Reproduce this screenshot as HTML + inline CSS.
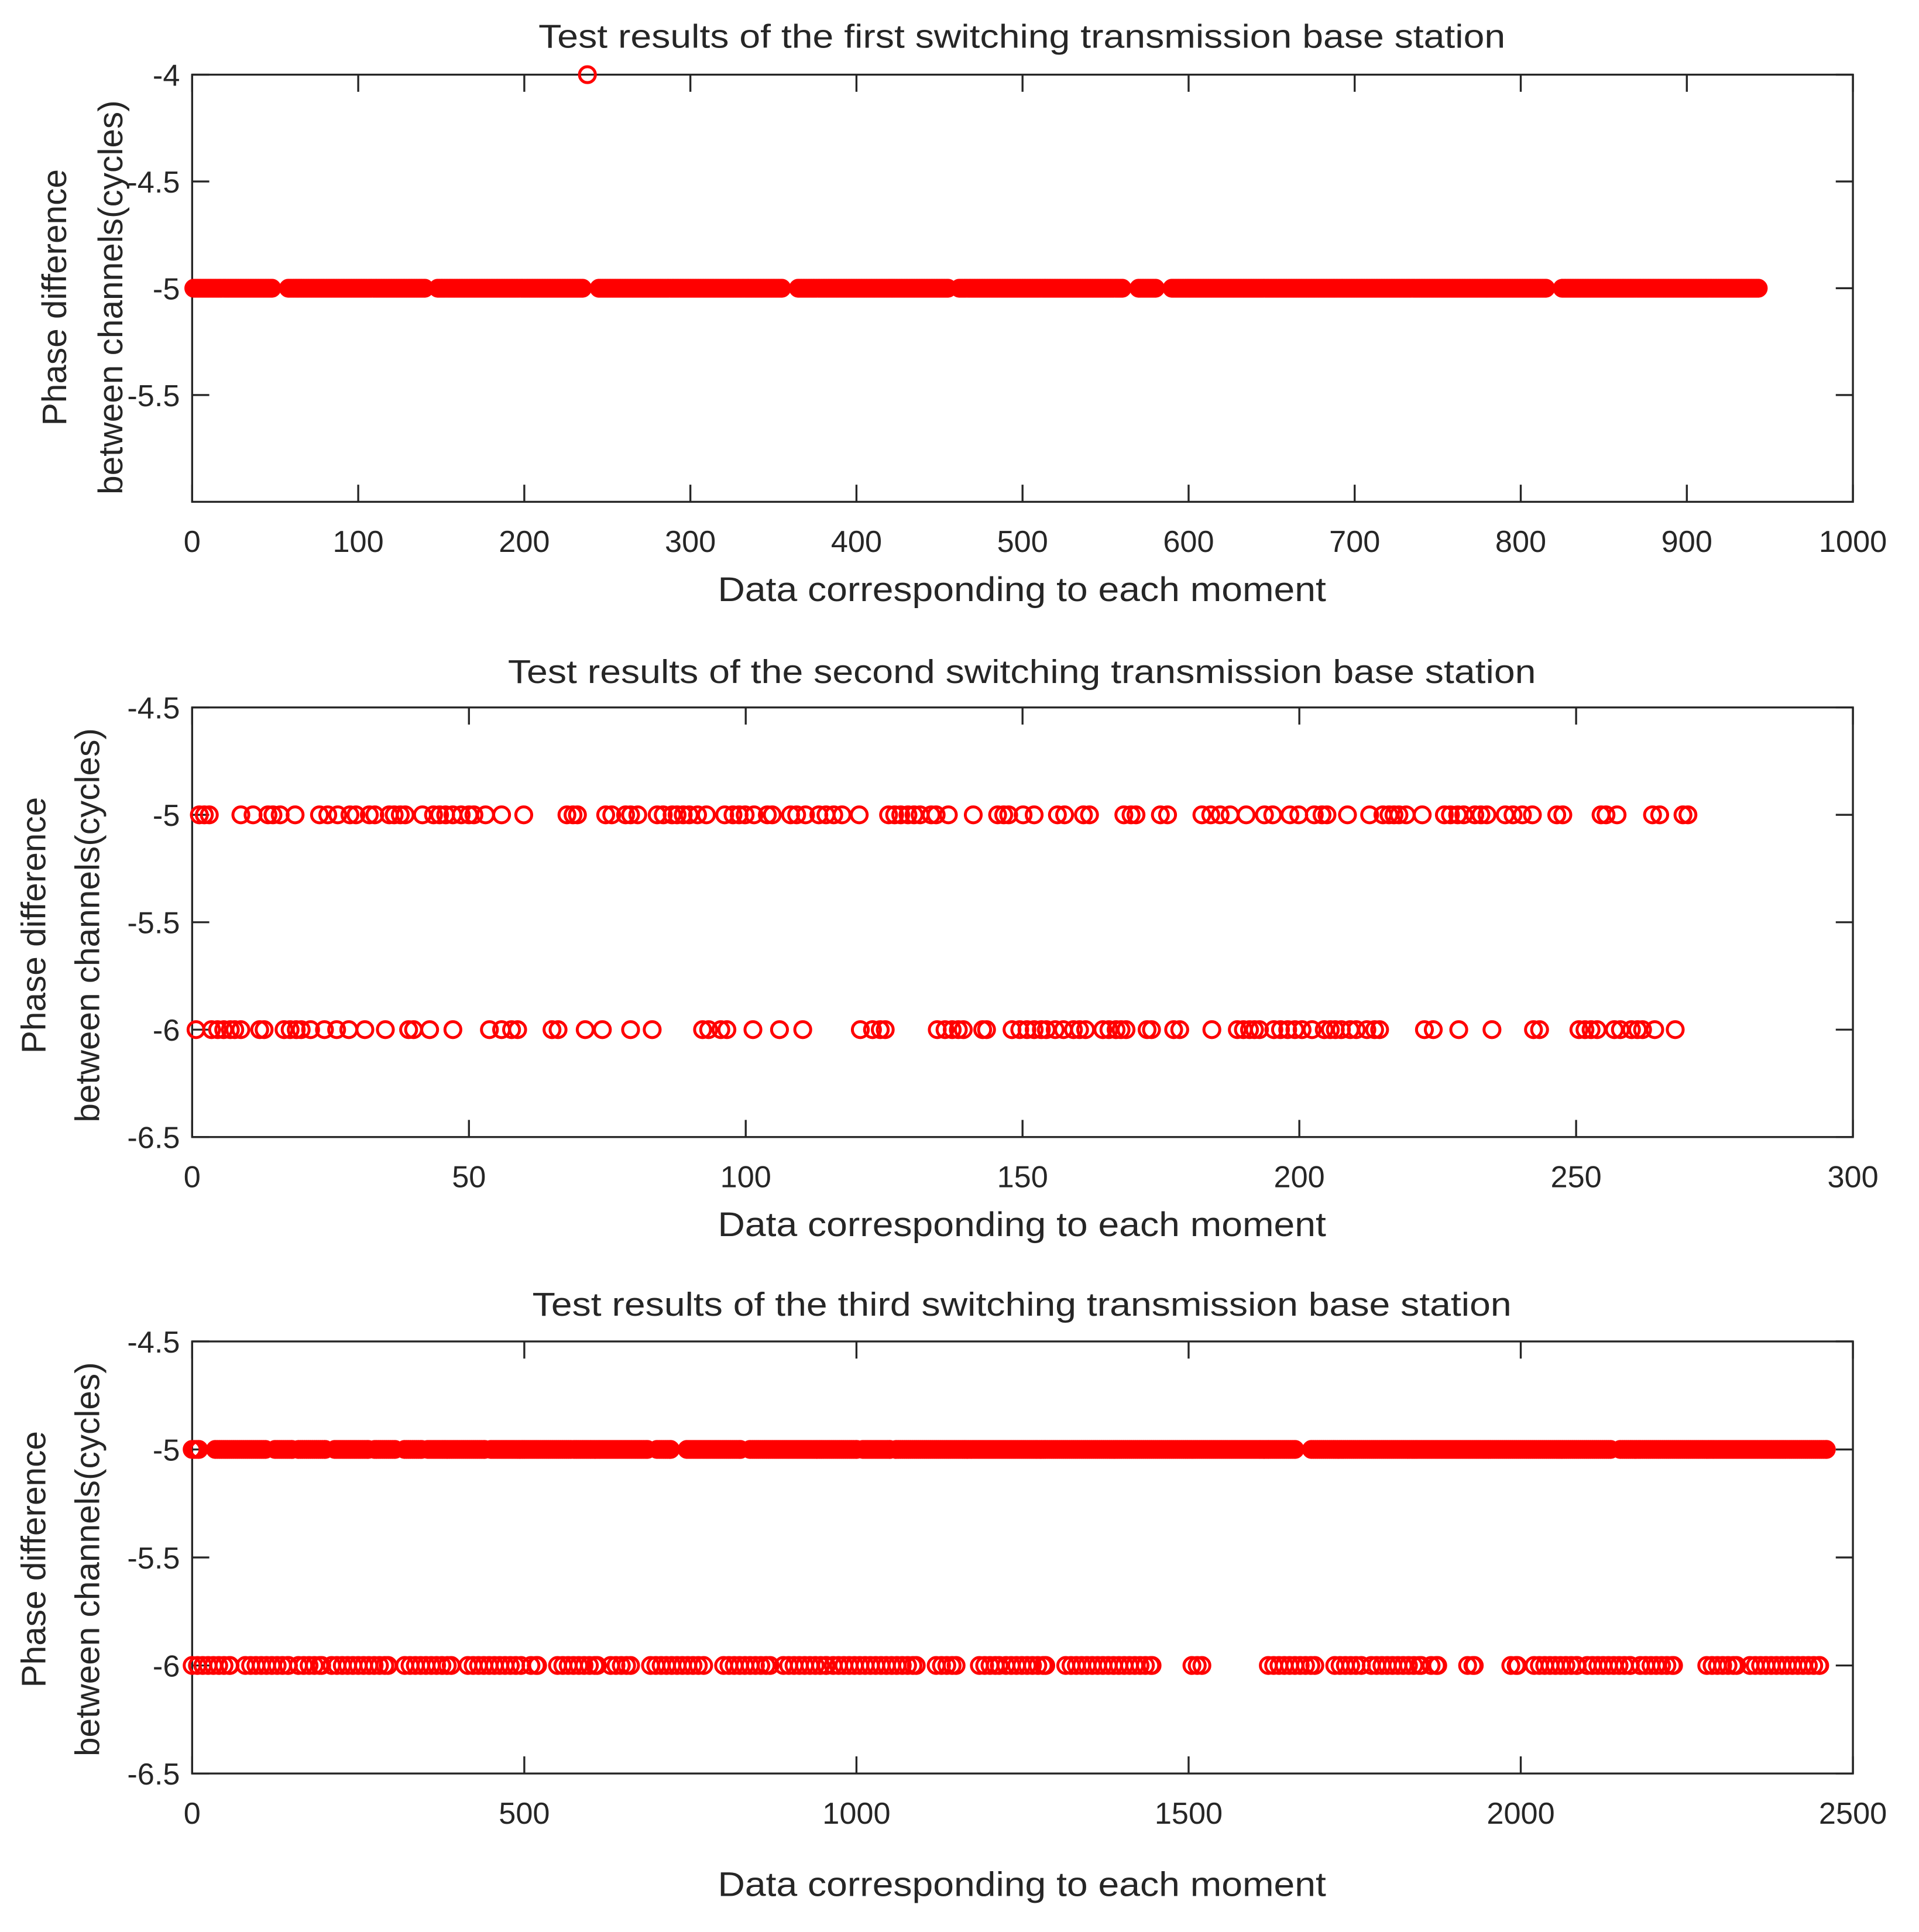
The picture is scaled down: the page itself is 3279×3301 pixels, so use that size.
<!DOCTYPE html>
<html><head><meta charset="utf-8"><style>
html,body{margin:0;padding:0;background:#fff;}
svg{display:block;}
text{font-family:"Liberation Sans",Arial,sans-serif;fill:#262626;}
</style></head><body>
<svg id="fig" width="3279" height="3301" viewBox="0 0 1568 1578.5" preserveAspectRatio="none" xmlns="http://www.w3.org/2000/svg"></svg>
<script>
// ---- data ----
const p1Segments5 = [[1,48],[58,140],[148,235],[245,355],[365,455],[462,560],[570,580],[590,815],[825,943]];
const p1Outliers = [238];
const p2Top = [1.3,2.2,3.1,8.8,11,13.7,14.6,15.9,18.6,23,24.5,26.3,28.5,29.6,32,33,35.6,36.5,37.6,38.5,41.6,43.6,44.7,45.8,47.1,48.6,50,50.9,53,55.9,59.9,67.7,68.8,69.6,74.7,75.8,78.3,79.2,80.5,84,85.1,86.7,87.6,88.7,89.8,91.3,92.9,96.2,97.7,98.8,99.9,101.5,103.9,104.8,108.1,109.2,110.8,113.2,114.5,115.9,117.4,120.5,125.8,126.9,128,129.3,130.4,131.5,133.5,134.4,136.6,141.1,145.5,146.6,147.5,150.1,152.1,156.3,157.6,161,162.1,168.3,169.6,170.5,174.9,176.2,182.4,184,185.7,187.5,190.4,193.7,195.2,198.3,199.9,202.7,204.1,205,208.7,212.7,215.1,216.2,217.1,218,219.3,222.2,226.2,227.3,228.6,229.7,231.7,232.8,233.9,237.2,238.6,240.3,242.1,246.5,247.6,254.5,255.4,257.4,263.8,265.1,269.3,270.2];
const p2Bottom = [0.7,3.5,4.6,5.7,6.9,7.7,8.8,12.2,13,16.6,17.7,18.8,19.7,21.4,23.9,26.1,28.3,31.2,34.9,39.1,40,42.9,47.1,53.7,55.9,57.7,58.8,65,66.1,71,74.1,79.2,83.1,92.2,93.3,95.5,96.6,101.3,106.1,110.3,120.7,122.9,124.3,125.2,134.6,136,137.3,138.4,139.3,142.8,143.5,148.1,149.5,150.8,152.1,153.4,154.3,155.9,157.4,159.2,160.3,161.4,164.5,165.6,166.9,167.8,168.7,172.5,173.3,177.3,178.4,184.2,188.8,189.9,191,191.9,192.8,195.4,196.6,197.9,199.2,200.5,202.3,204.5,205.6,206.5,207.6,209.2,210.3,212.2,213.6,214.5,222.6,224.2,228.8,234.8,242.3,243.4,250.5,251.6,252.7,253.8,256.9,258,260,261.1,262,264.2,267.9];
const p3Segments5 = [[0,10],[35,110],[125,150],[160,200],[215,265],[275,305],[320,345],[355,440],[450,570],[575,685],[700,720],[745,825],[840,1000],[1010,1050],[1060,1660],[1685,2135],[2150,2460]];
const p3Segments6 = [[0,57],[80,145],[160,195],[210,295],[320,390],[415,495],[510,520],[550,610],[630,660],[690,770],[800,870],[890,955],[965,1090],[1120,1150],[1185,1215],[1225,1285],[1315,1445],[1505,1520],[1620,1690],[1720,1760],[1775,1850],[1865,1875],[1920,1930],[1985,1995],[2020,2085],[2100,2165],[2180,2230],[2280,2325],[2345,2450]];
const xTicks1 = [0,100,200,300,400,500,600,700,800,900,1000];
const xTicks2 = [0,50,100,150,200,250,300];
const xTicks3 = [0,500,1000,1500,2000,2500];
const yTicks1 = [-4,-4.5,-5,-5.5];
const yTicks23 = [-4.5,-5,-5.5,-6,-6.5];

const NS='http://www.w3.org/2000/svg';
const svg=document.getElementById('fig');
function mk(tag,attrs,parent){const e=document.createElementNS(NS,tag);for(const k in attrs)e.setAttribute(k,attrs[k]);(parent||svg).appendChild(e);return e;}
function expand(segs,step){const out=[];segs.forEach(s=>{for(let v=s[0];v<=s[1];v+=step)out.push(v);if((s[1]-s[0])%step)out.push(s[1]);});return out;}

function axes(cfg){
  const g=mk('g',{});
  
  
  const L=157,R=1514,T=cfg.top,B=cfg.bottom;
  const sx=v=>L+(v-cfg.xmin)/(cfg.xmax-cfg.xmin)*(R-L);
  const sy=v=>T+(cfg.ymax-v)/(cfg.ymax-cfg.ymin)*(B-T);
  const title=mk('text',{x:835,y:cfg.titleY,'text-anchor':'middle','font-size':27,fill:'#000',textLength:cfg.titleW,lengthAdjust:'spacingAndGlyphs'},g);
  title.textContent=cfg.title;
  
  
  const box=mk('rect',{x:L,y:T,width:R-L,height:B-T,fill:'none',stroke:'#262626','stroke-width':1.6},g);
  
  
  cfg.xt.forEach(v=>{
    const x=sx(v);
    mk('line',{x1:x,y1:B,x2:x,y2:B-14,stroke:'#262626','stroke-width':1.6},g);
    mk('line',{x1:x,y1:T,x2:x,y2:T+14,stroke:'#262626','stroke-width':1.6},g);
    const t=mk('text',{x:x,y:B+41,'text-anchor':'middle','font-size':25},g);
    t.textContent=String(v);
    
    
  });
  cfg.yt.forEach(v=>{
    const y=sy(v);
    mk('line',{x1:L,y1:y,x2:L+14,y2:y,stroke:'#262626','stroke-width':1.6},g);
    mk('line',{x1:R,y1:y,x2:R-14,y2:y,stroke:'#262626','stroke-width':1.6},g);
    const t=mk('text',{x:L-10,y:y+9,'text-anchor':'end','font-size':25},g);
    t.textContent=String(v);
    
    
  });
  const xl=mk('text',{x:835,y:cfg.xlabelY,'text-anchor':'middle','font-size':28,textLength:497,lengthAdjust:'spacingAndGlyphs'},g);
  xl.textContent='Data corresponding to each moment';
  
  
  const yl1=mk('text',{x:0,y:0,'text-anchor':'middle','font-size':28,transform:`translate(${cfg.yl1x},${cfg.yc}) rotate(-90)`},g);
  yl1.textContent='Phase difference';
  
  
  const yl2=mk('text',{x:0,y:0,'text-anchor':'middle','font-size':28,transform:`translate(${cfg.yl2x},${cfg.yc}) rotate(-90)`},g);
  yl2.textContent='between channels(cycles)';
  
  
  const pts=mk('g',{},g);
  
  
  cfg.series.forEach(s=>{
    s.xs.forEach(v=>{
      const c=mk('circle',{cx:sx(v),cy:sy(s.y),r:6.5,fill:'none',stroke:'#ff0000','stroke-width':2.4},pts);
      
      
    });
  });
}

axes({name:'chart-first-station',top:61,bottom:410,xmin:0,xmax:1000,ymin:-6,ymax:-4,xt:xTicks1,yt:yTicks1,
  title:'Test results of the first switching transmission base station',titleW:790,titleY:39,xlabelY:491,yl1x:54,yl2x:100,yc:243,
  series:[{y:-5,xs:expand(p1Segments5,1)},{y:-4,xs:p1Outliers}]});
axes({name:'chart-second-station',top:578,bottom:929,xmin:0,xmax:300,ymin:-6.5,ymax:-4.5,xt:xTicks2,yt:yTicks23,
  title:'Test results of the second switching transmission base station',titleW:840,titleY:558,xlabelY:1010,yl1x:37,yl2x:81,yc:756,
  series:[{y:-5,xs:p2Top},{y:-6,xs:p2Bottom}]});
axes({name:'chart-third-station',top:1096,bottom:1449,xmin:0,xmax:2500,ymin:-6.5,ymax:-4.5,xt:xTicks3,yt:yTicks23,
  title:'Test results of the third switching transmission base station',titleW:800,titleY:1075,xlabelY:1549,yl1x:37,yl2x:81,yc:1274,
  series:[{y:-5,xs:expand(p3Segments5,3)},{y:-6,xs:expand(p3Segments6,8)}]});
</script>
</body></html>
